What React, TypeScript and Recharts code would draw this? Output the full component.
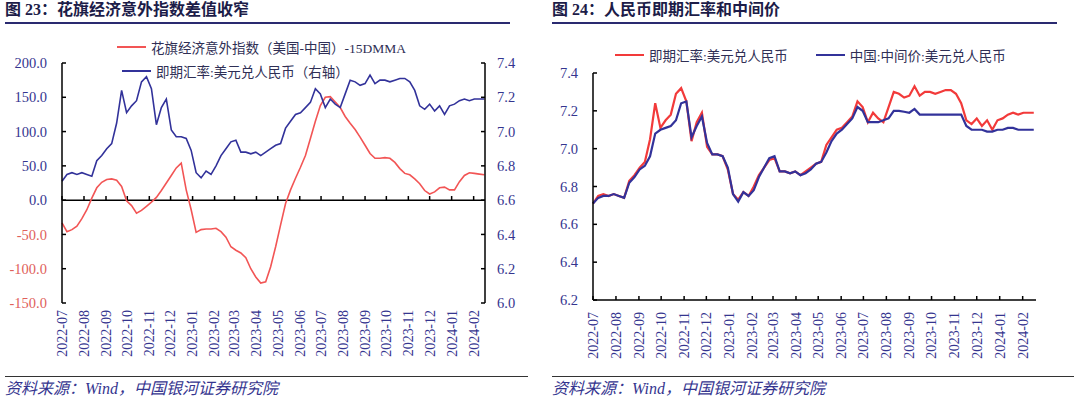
import React from 'react';
import { LineChart, Line, XAxis, YAxis, ReferenceLine } from 'recharts';

// weekly samples starting 2022-07-01
const STEP_DAYS = 7;

const monthTicks = [0, 31, 62, 92, 123, 153, 184, 215, 243, 274, 304, 335, 365, 396, 427, 457, 488, 518, 549, 580];
const monthLabels = [
  '2022-07', '2022-08', '2022-09', '2022-10', '2022-11', '2022-12',
  '2023-01', '2023-02', '2023-03', '2023-04', '2023-05', '2023-06',
  '2023-07', '2023-08', '2023-09', '2023-10', '2023-11', '2023-12',
  '2024-01', '2024-02',
];

// 即期汇率:美元兑人民币
const spotRate = [
  6.71, 6.75, 6.76, 6.75, 6.76, 6.75, 6.74, 6.83, 6.86, 6.90,
  6.93, 7.05, 7.24, 7.11, 7.15, 7.18, 7.29, 7.32, 7.25, 7.04,
  7.14, 7.19, 7.01, 6.97, 6.97, 6.96, 6.89, 6.76, 6.73, 6.77,
  6.75, 6.80, 6.86, 6.90, 6.94, 6.95, 6.88, 6.88, 6.87, 6.88,
  6.86, 6.88, 6.90, 6.92, 6.93, 7.02, 7.06, 7.10, 7.11, 7.14,
  7.17, 7.25, 7.22, 7.14, 7.19, 7.16, 7.14, 7.22, 7.30, 7.29,
  7.27, 7.28, 7.33, 7.28, 7.30, 7.30, 7.29, 7.30, 7.31, 7.31,
  7.29, 7.24, 7.15, 7.13, 7.16, 7.12, 7.15, 7.10, 7.15, 7.16,
  7.18, 7.19, 7.18, 7.19, 7.19, 7.19,
];

// 中国:中间价:美元兑人民币
const midRate = [
  6.71, 6.74, 6.75, 6.75, 6.76, 6.75, 6.74, 6.82, 6.85, 6.89,
  6.91, 6.96, 7.08, 7.10, 7.11, 7.12, 7.15, 7.24, 7.25, 7.06,
  7.12, 7.17, 7.03, 6.97, 6.97, 6.96, 6.90, 6.76, 6.72, 6.77,
  6.75, 6.78, 6.85, 6.90, 6.95, 6.96, 6.88, 6.88, 6.87, 6.88,
  6.86, 6.87, 6.89, 6.92, 6.93, 6.98, 7.04, 7.08, 7.10, 7.13,
  7.16, 7.22, 7.20, 7.14, 7.14, 7.14, 7.15, 7.16, 7.20, 7.20,
  7.195, 7.19, 7.21, 7.18, 7.18, 7.18, 7.18, 7.18, 7.18, 7.18,
  7.18, 7.18, 7.12, 7.10, 7.10, 7.10, 7.09, 7.09, 7.10, 7.10,
  7.11, 7.11, 7.10, 7.10, 7.10, 7.10,
];

// 花旗经济意外指数（美国-中国）-15DMMA
const citiDiff = [
  -33, -46, -43, -38, -27, -14, 3, 18, 26, 30,
  31, 29, 20, -1, -8, -19, -15, -9, -3, 4,
  14, 25, 36, 47, 54, 15, -14, -47, -43, -42,
  -42, -41, -46, -54, -68, -73, -77, -84, -100, -112,
  -121, -119, -97, -68, -36, -5, 15, 32, 48, 65,
  90, 115, 138, 150, 151, 143, 135, 122, 112, 103,
  92, 80, 68, 61, 61, 62, 61, 55, 46, 39,
  37, 31, 24, 14, 9, 12, 18, 19, 15, 15,
  27, 36, 40, 39, 38, 37,
];

const diffTicks = [-150, -100, -50, 0, 50, 100, 150, 200];
const rateTicksLeft = [6.0, 6.2, 6.4, 6.6, 6.8, 7.0, 7.2, 7.4];
const rateTicksRight = [6.2, 6.3, 6.4, 6.5, 6.6, 6.7, 6.8, 6.9, 7.0, 7.1, 7.2, 7.3, 7.4];

const rows = spotRate.map((v, i) => ({
  day: i * STEP_DAYS,
  spot: v,
  mid: midRate[i],
  citi: citiDiff[i],
}));

const NAVY = '#35358f';
const NAVY_LINE = '#32329a';
const RED = '#f23a3a';
const RED_SOFT = '#f25555';
const RED_TXT = '#e0605a';
const SERIF = '"Liberation Serif", "Noto Sans CJK SC", serif';
const CJK = '"Liberation Serif", "Noto Sans CJK SC", sans-serif';

function MonthTick({ x, y, payload }: any) {
  const label = monthLabels[monthTicks.indexOf(payload.value)];
  return (
    <text
      transform={`translate(${x},${y}) rotate(-90)`}
      textAnchor="end"
      dy="0.35em"
      fill={NAVY}
      fontSize={14}
      fontFamily={SERIF}
    >
      {label}
    </text>
  );
}

function DiffTick({ x, y, payload }: any) {
  const v = payload.value;
  return (
    <text x={x} y={y} dy="0.35em" textAnchor="end" fill={v < 0 ? RED_TXT : NAVY} fontSize={14.5} fontFamily={SERIF}>
      {v.toFixed(1)}
    </text>
  );
}

const rateTick = { fill: NAVY, fontSize: 14.5, fontFamily: SERIF };

function LegendItem({ color, label }: { color: string; label: string }) {
  return (
    <div style={{ display: 'flex', alignItems: 'center' }}>
      <span style={{ display: 'inline-block', width: 29, height: 2, background: color }} />
      <span style={{ marginLeft: 5, fontSize: 13.5, color: '#2f2f55', fontFamily: CJK, whiteSpace: 'nowrap' }}>{label}</span>
    </div>
  );
}

function Header({ text }: { text: string }) {
  return (
    <>
      <div
        style={{
          position: 'absolute', left: 0, top: 0, fontSize: 16, fontWeight: 700,
          color: '#1c1c48', fontFamily: CJK, whiteSpace: 'nowrap', lineHeight: '20px',
        }}
      >
        {text}
      </div>
      <div style={{ position: 'absolute', left: 0, top: 22, width: 505, height: 1.5, background: '#2a2a70' }} />
    </>
  );
}

function Source({ width }: { width: number }) {
  return (
    <>
      <div style={{ position: 'absolute', left: 0, top: 376, width, height: 1, background: '#333' }} />
      <div
        style={{
          position: 'absolute', left: 0, top: 379, fontSize: 16, fontStyle: 'italic',
          color: NAVY, fontFamily: CJK, whiteSpace: 'nowrap', lineHeight: '20px',
        }}
      >
        资料来源：Wind，中国银河证券研究院
      </div>
    </>
  );
}

function CitiChart() {
  return (
    <div style={{ position: 'absolute', left: 0, top: 0, width: 540, height: 405 }}>
      <LineChart width={540} height={405} data={rows} margin={{ top: 63, right: 0, bottom: 42, left: 0 }}>
        <XAxis
          dataKey="day"
          type="number"
          domain={[0, 596]}
          ticks={monthTicks}
          interval={0}
          axisLine={false}
          tickLine={false}
          tickSize={0}
          tickMargin={7}
          height={60}
          tick={<MonthTick />}
        />
        <YAxis
          yAxisId="left"
          domain={[-150, 200]}
          ticks={diffTicks}
          width={62}
          stroke="#000"
          strokeWidth={1.5}
          tickSize={-4}
          tickMargin={19}
          tick={<DiffTick />}
        />
        <YAxis
          yAxisId="right"
          orientation="right"
          domain={[6.0, 7.4]}
          ticks={rateTicksLeft}
          width={55}
          stroke="#000"
          strokeWidth={1.5}
          tickSize={-4}
          tickMargin={16}
          tick={rateTick}
          tickFormatter={(v: number) => v.toFixed(1)}
        />
        <ReferenceLine yAxisId="left" y={0} stroke="#000" strokeWidth={1.5} />
        {monthTicks.map((d) => (
          <ReferenceLine
            key={d}
            yAxisId="left"
            segment={[{ x: d, y: 0 }, { x: d, y: 6 }]}
            stroke="#000"
            strokeWidth={1.5}
          />
        ))}
        <Line yAxisId="left" dataKey="citi" stroke={RED_SOFT} strokeWidth={1.6} dot={false} isAnimationActive={false} />
        <Line yAxisId="right" dataKey="spot" stroke={NAVY_LINE} strokeWidth={1.6} dot={false} isAnimationActive={false} />
      </LineChart>
      <div style={{ position: 'absolute', left: 117, top: 37 }}>
        <LegendItem color={RED_SOFT} label="花旗经济意外指数（美国-中国）-15DMMA" />
      </div>
      <div style={{ position: 'absolute', left: 122, top: 61 }}>
        <LegendItem color={NAVY_LINE} label="即期汇率:美元兑人民币（右轴）" />
      </div>
      <div style={{ position: 'absolute', left: 5, top: 0 }}>
        <Header text="图 23：花旗经济意外指数差值收窄" />
        <Source width={523} />
      </div>
    </div>
  );
}

function RateChart() {
  return (
    <div style={{ position: 'absolute', left: 540, top: 0, width: 540, height: 405 }}>
      <LineChart width={540} height={405} data={rows} margin={{ top: 73, right: 44, bottom: 45, left: 0 }}>
        <XAxis
          dataKey="day"
          type="number"
          domain={[0, 598]}
          ticks={monthTicks}
          interval={0}
          stroke="#000"
          strokeWidth={1.5}
          tickSize={-4}
          tickMargin={16}
          height={60}
          tick={<MonthTick />}
        />
        <YAxis
          domain={[6.2, 7.4]}
          ticks={rateTicksRight}
          width={53}
          stroke="#000"
          strokeWidth={1.5}
          tickSize={-4}
          tickMargin={19}
          tick={rateTick}
          tickFormatter={(v: number) => v.toFixed(1)}
        />
        <Line dataKey="spot" stroke={RED} strokeWidth={2.2} dot={false} isAnimationActive={false} />
        <Line dataKey="mid" stroke={NAVY_LINE} strokeWidth={2.2} dot={false} isAnimationActive={false} />
      </LineChart>
      <div style={{ position: 'absolute', left: 75, top: 45, display: 'flex', gap: 28 }}>
        <LegendItem color={RED} label="即期汇率:美元兑人民币" />
        <LegendItem color={NAVY_LINE} label="中国:中间价:美元兑人民币" />
      </div>
      <div style={{ position: 'absolute', left: 12, top: 0 }}>
        <Header text="图 24：人民币即期汇率和中间价" />
        <Source width={522} />
      </div>
    </div>
  );
}

export default function App() {
  return (
    <div style={{ position: 'absolute', left: 0, top: 0, width: 1080, height: 405, background: '#fff', overflow: 'hidden' }}>
      <CitiChart />
      <RateChart />
    </div>
  );
}
